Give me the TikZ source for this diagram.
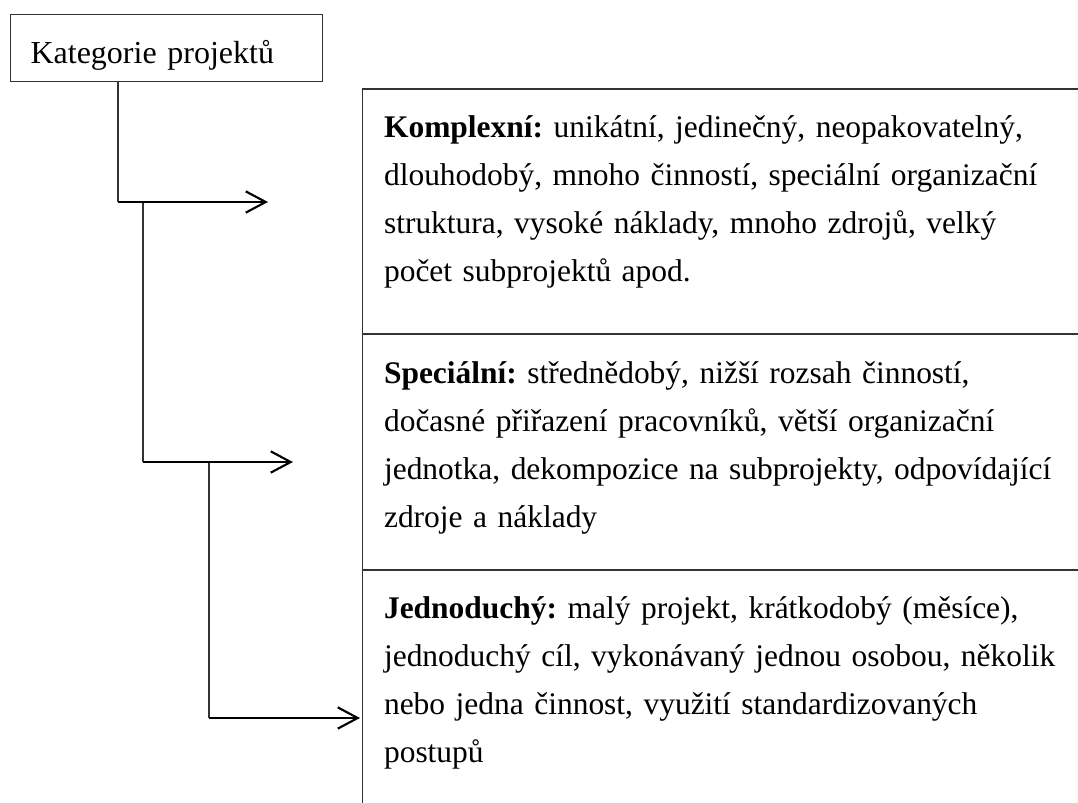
\documentclass[tikz,border=0pt]{standalone}
\usepackage{fontspec}
\setmainfont{Liberation Serif}
\usetikzlibrary{arrows.meta}
\begin{document}
\begin{tikzpicture}[x=0.375pt,y=-0.375pt,>={Straight Barb[length=7.5pt,width=8pt]},
  thin/.style={line width=0.4pt,draw=black!80},
  branch/.style={->,line width=0.8pt},
  cell/.style={anchor=base west,align=left,text width=262pt,inner sep=0pt,
    font=\fontsize{11.8}{18}\selectfont\frenchspacing}]
\def\fx{362.5}  % left edge of the frame
\def\fw{1078}   % right edge (open)
\useasboundingbox (0,0) rectangle (1078,803);
% root box
\node[thin,draw,anchor=north west,minimum width=117.2pt,minimum height=25.1pt,text width=101.8pt,
  inner xsep=7.7pt,inner ysep=0pt,text height=14.6pt,text depth=3pt,font=\fontsize{12}{14}\selectfont]
  (root) at (9.5,14) {Kategorie projektů};
% frame of the three categories: left edge, top and two separators
\draw[thin] (\fw,89) -- (\fx,89) -- (\fx,803);
\draw[thin] (\fx,334) -- (\fw,334);
\draw[thin] (\fx,570) -- (\fw,570);
% category texts
\node[cell] (komplex) at (383.5,137) {\textbf{Komplexní:} unikátní, jedinečný, neopakovatelný,\\
  dlouhodobý, mnoho činností, speciální organizační\\
  struktura, vysoké náklady, mnoho zdrojů, velký\\
  počet subprojektů apod.};
\node[cell] (special) at (383.5,383) {\textbf{Speciální:} střednědobý, nižší rozsah činností,\\
  dočasné přiřazení pracovníků, větší organizační\\
  jednotka, dekompozice na subprojekty, odpovídající\\
  zdroje a náklady};
\node[cell] (jednod) at (383.5,618) {\textbf{Jednoduchý:} malý projekt, krátkodobý (měsíce),\\
  jednoduchý cíl, vykonávaný jednou osobou, několik\\
  nebo jedna činnost, využití standardizovaných\\
  postupů};
% joints of the tree and tips of the arrows
\coordinate (j1) at (118,202);
\coordinate (j2) at (143,462);
\coordinate (j3) at (209,718);
\coordinate (t1) at (268,202);
\coordinate (t2) at (293,462);
\coordinate (t3) at (360,718);
% stems
\draw[thin] (root.south -| j1) -- (j1);
\draw[thin] (j1 -| j2) -- (j2);
\draw[thin] (j2 -| j3) -- (j3);
% branches
\draw[branch] (j1) -- (t1);
\draw[branch] (j2) -- (t2);
\draw[branch] (j3) -- (t3);
\end{tikzpicture}
\end{document}
